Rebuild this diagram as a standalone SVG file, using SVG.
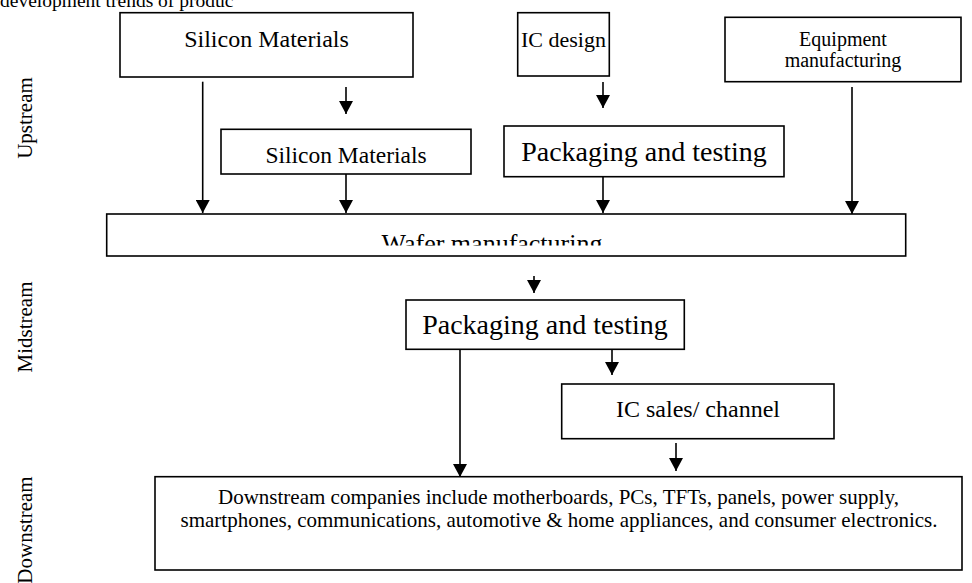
<svg xmlns="http://www.w3.org/2000/svg" width="972" height="583" viewBox="0 0 972 583">
<style>
  .box { fill: #fff; stroke: #000; stroke-width: 1.6; }
  .t { font-family: "Liberation Serif", "Times New Roman", serif; fill: #000; text-anchor: middle; }
  .conn line { stroke: #000; stroke-width: 1.6; }
</style>
<defs>
  <marker id="ah" markerUnits="userSpaceOnUse" markerWidth="13" markerHeight="14" refX="13" refY="7" orient="auto">
    <path d="M0,0 L13,7 L0,14 z" fill="#000"/>
  </marker>
  <clipPath id="wclip"><rect x="100" y="210" width="810" height="35.5"/></clipPath>
</defs>
<rect width="972" height="583" fill="#fff"/>

<text class="t" x="0" y="7" style="text-anchor:start" font-size="19.5">development trends of produc</text>

<g id="lbl-upstream"><text class="t" transform="translate(32,118) rotate(-90)" font-size="21">Upstream</text></g>
<g id="lbl-midstream"><text class="t" transform="translate(32,327) rotate(-90)" font-size="21">Midstream</text></g>
<g id="lbl-downstream"><text class="t" transform="translate(32,530) rotate(-90)" font-size="21">Downstream</text></g>

<g id="n-silicon-top">
  <rect class="box" x="120" y="12.7" width="293" height="64.3"/>
  <text class="t" x="266.5" y="47" font-size="24">Silicon Materials</text>
</g>
<g id="n-ic-design">
  <rect class="box" x="517.7" y="12.7" width="91.6" height="63.3"/>
  <text class="t" x="563.5" y="47" font-size="22">IC design</text>
</g>
<g id="n-equipment">
  <rect class="box" x="725" y="17.3" width="236" height="64.4"/>
  <text class="t" x="843" y="46" font-size="20">Equipment</text>
  <text class="t" x="843" y="67" font-size="20">manufacturing</text>
</g>
<g id="n-silicon-2">
  <rect class="box" x="221" y="129.3" width="250" height="44.7"/>
  <text class="t" x="346" y="163" font-size="23.5">Silicon Materials</text>
</g>
<g id="n-packaging-up">
  <rect class="box" x="504" y="126" width="280" height="50.7"/>
  <text class="t" x="644" y="161" font-size="28">Packaging and testing</text>
</g>
<g id="n-wafer">
  <rect class="box" x="106.7" y="214" width="799" height="42"/>
  <text class="t" x="492" y="251.5" font-size="26" clip-path="url(#wclip)">Wafer manufacturing</text>
</g>
<g id="n-packaging-mid">
  <rect class="box" x="406" y="300" width="278.3" height="49.3"/>
  <text class="t" x="545" y="334" font-size="28">Packaging and testing</text>
</g>
<g id="n-ic-sales">
  <rect class="box" x="561.7" y="384" width="272.3" height="54.7"/>
  <text class="t" x="698" y="417" font-size="24">IC sales/ channel</text>
</g>
<g id="n-downstream">
  <rect class="box" x="155" y="476.7" width="807" height="93.3"/>
  <text class="t" x="558.5" y="504" font-size="21">Downstream companies include motherboards, PCs, TFTs, panels, power supply,</text>
  <text class="t" x="559" y="527" font-size="21">smartphones, communications, automotive &amp; home appliances, and consumer electronics.</text>
</g>

<g id="connectors" class="conn">
  <line x1="202.7" y1="81.7" x2="202.7" y2="213" marker-end="url(#ah)"/>
  <line x1="346" y1="87" x2="346" y2="114" marker-end="url(#ah)"/>
  <line x1="346" y1="174" x2="346" y2="213" marker-end="url(#ah)"/>
  <line x1="603" y1="82" x2="603" y2="108" marker-end="url(#ah)"/>
  <line x1="603" y1="177" x2="603" y2="213" marker-end="url(#ah)"/>
  <line x1="852" y1="87" x2="852" y2="214" marker-end="url(#ah)"/>
  <line x1="534" y1="276" x2="534" y2="293" marker-end="url(#ah)"/>
  <line x1="460" y1="349.3" x2="460" y2="477" marker-end="url(#ah)"/>
  <line x1="612" y1="349.3" x2="612" y2="375" marker-end="url(#ah)"/>
  <line x1="676" y1="443" x2="676" y2="471" marker-end="url(#ah)"/>
</g>
</svg>
